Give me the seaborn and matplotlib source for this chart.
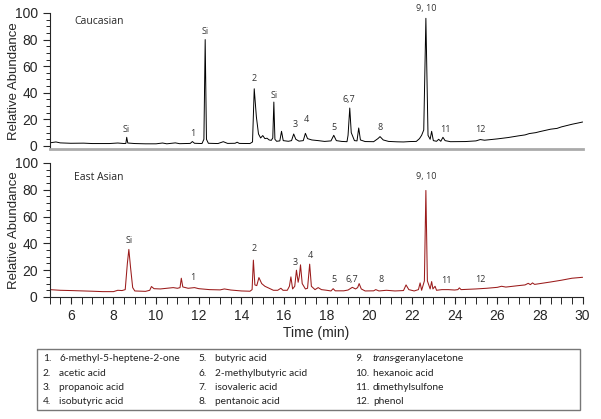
import numpy as np
import matplotlib
matplotlib.use("Agg")
import matplotlib.pyplot as plt
import seaborn as sns
from matplotlib.patches import Rectangle
from matplotlib.ticker import MultipleLocator

# -------------------------------
# DATA
# -------------------------------
cauc_time = [5.0, 5.3, 5.5, 6.0, 6.6, 7.0, 7.8, 8.2, 8.5, 8.58, 8.62, 8.67, 9.0, 9.5,
             10.0, 10.3, 10.5, 10.9, 11.1, 11.6, 11.7, 11.8, 12.15, 12.24, 12.3, 12.36,
             12.45, 12.9, 13.15, 13.35, 13.7, 13.8, 13.9, 14.4, 14.52, 14.6, 14.7, 14.8,
             14.9, 15.0, 15.1, 15.2, 15.3, 15.4, 15.47, 15.52, 15.57, 15.65, 15.8, 15.88,
             15.96, 16.2, 16.35, 16.45, 16.55, 16.7, 16.9, 17.0, 17.1, 17.3, 17.6, 17.9,
             18.2, 18.33, 18.45, 18.7, 18.95, 19.0, 19.08, 19.15, 19.3, 19.42, 19.5,
             19.58, 19.8, 20.2, 20.4, 20.5, 20.65, 20.9, 21.3, 21.6, 21.9, 22.2, 22.35,
             22.45, 22.55, 22.65, 22.75, 22.85, 22.92, 23.0, 23.15, 23.25, 23.35, 23.45,
             23.55, 23.8, 24.5, 25.0, 25.2, 25.4, 26.0, 26.5, 27.0, 27.3, 27.5, 27.8,
             28.0, 28.5, 28.8, 29.0, 29.5, 29.8, 30.0]
cauc_abund = [2.3, 3.0, 2.3, 2.0, 2.1, 1.8, 1.8, 2.2, 1.8, 1.9, 6.5, 2.2, 1.8, 1.6,
              1.6, 2.2, 1.6, 2.3, 1.7, 1.9, 3.3, 2.0, 1.8, 5.0, 80.0, 5.0,
              2.0, 1.8, 3.2, 1.9, 2.0, 2.8, 1.9, 1.8, 3.0, 43.0, 22.0, 9.0,
              6.0, 7.8, 5.5, 5.8, 4.5, 4.2, 6.0, 33.0, 5.0, 3.5, 3.8, 11.0,
              4.0, 3.5, 4.0, 9.0, 5.0, 3.6, 4.0, 9.5, 5.5, 4.5, 4.0, 3.4,
              3.8, 8.0, 4.0, 3.4, 3.2, 8.0, 28.5, 10.0, 4.0, 3.8, 13.5,
              4.5, 3.3, 3.2, 5.5, 7.0, 4.5, 3.4, 3.1, 3.0, 3.3, 3.4, 5.5,
              8.0, 12.0, 96.0, 8.0, 5.0, 11.0, 4.0, 3.5, 5.0, 3.5, 6.5,
              4.0, 3.2, 3.3, 3.8, 4.8, 4.3, 5.3, 6.3, 7.6, 8.3, 9.3, 10.0,
              10.8, 12.6, 13.2, 14.3, 16.3, 17.3, 18.0]

asian_time = [5.0, 5.5, 6.0, 7.0, 7.5, 8.0, 8.2, 8.4, 8.55, 8.65, 8.72, 8.8, 8.9, 9.0,
              9.5, 9.7, 9.78, 9.9, 10.2, 10.5, 10.8, 11.0, 11.12, 11.18, 11.25, 11.5,
              11.8, 12.0, 12.5, 13.0, 13.2, 13.5, 14.0, 14.4, 14.5, 14.56, 14.63, 14.72,
              14.82, 14.95, 15.1, 15.3, 15.5, 15.7, 15.85, 15.95, 16.15, 16.25, 16.32,
              16.4, 16.5, 16.58, 16.66, 16.72, 16.77, 16.85, 17.0, 17.1, 17.2, 17.28,
              17.45, 17.6, 17.75, 18.0, 18.2, 18.3, 18.4, 18.8, 19.0, 19.2, 19.35, 19.45,
              19.52, 19.62, 19.8, 20.2, 20.3, 20.45, 20.8, 21.2, 21.6, 21.72, 21.85, 22.1,
              22.3, 22.38, 22.45, 22.58, 22.65, 22.72, 22.85, 22.92, 22.98, 23.08, 23.15,
              23.4, 23.7, 24.0, 24.15, 24.22, 24.3, 25.0, 25.5, 26.0, 26.2, 26.4, 27.0,
              27.3, 27.45, 27.55, 27.65, 27.75, 28.0, 28.5, 29.0, 29.5, 30.0]
asian_abund = [5.5, 5.0, 4.8, 4.3, 4.0, 4.0, 5.0, 4.8, 5.5, 25.0, 35.5, 22.0, 7.0, 4.5,
               4.2, 5.0, 7.8, 6.2, 6.0, 6.5, 7.0, 6.5, 7.0, 14.0, 7.5, 6.5,
               7.0, 6.2, 5.5, 5.3, 6.0, 5.2, 4.5, 4.3, 5.5, 27.5, 9.0, 8.5,
               14.5, 10.0, 8.0, 6.5, 5.0, 5.0, 6.5, 5.0, 5.0, 8.0, 15.0,
               6.0, 8.0, 20.0, 11.0, 16.0, 24.0, 10.0, 6.0, 6.5, 24.5, 8.0,
               5.5, 7.0, 5.5, 5.0, 4.5, 6.2, 4.6, 4.6, 5.2, 7.2, 6.0, 7.0,
               10.0, 6.0, 4.5, 4.6, 5.5, 4.5, 5.0, 4.5, 4.8, 9.0, 5.5, 4.5,
               5.5, 10.5, 5.0, 12.0, 79.5, 12.0, 6.0, 11.5, 6.0, 8.0, 5.0,
               5.5, 5.5, 5.2, 5.5, 6.8, 5.5, 6.0, 6.5, 7.2, 8.0, 7.4, 8.5,
               9.0, 10.2, 9.2, 10.5, 9.4, 10.0, 11.2, 12.5, 14.0, 14.7]

# peak labels: text, retention time, height of label
cauc_labels = ["Si", "1", "Si", "2", "Si", "3", "4", "5", "6,7", "8", "9, 10", "11", "12"]
cauc_label_t = [8.6, 11.7, 12.32, 14.6, 15.55, 16.5, 17.05, 18.35, 19.05, 20.5, 22.65, 23.55, 25.2]
cauc_label_y = [12, 9, 86, 51, 38, 16, 20, 13.5, 35, 14, 103.5, 12.5, 12]

asian_labels = ["Si", "1", "2", "3", "4", "5", "6,7", "8", "9, 10", "11", "12"]
asian_label_t = [8.72, 11.73, 14.58, 16.52, 17.22, 18.33, 19.16, 20.54, 22.65, 23.6, 25.22]
asian_label_y = [42, 14.4, 36, 26, 31, 13.2, 13.2, 13.2, 90, 12, 12.7]

compound_nums = ["1.", "2.", "3.", "4.", "5.", "6.", "7.", "8.", "9.", "10.", "11.", "12."]
compound_names = ["6-methyl-5-heptene-2-one", "acetic acid", "propanoic acid",
                  "isobutyric acid", "butyric acid", "2-methylbutyric acid",
                  "isovaleric acid", "pentanoic acid", "trans", "hexanoic acid",
                  "dimethylsulfone", "phenol"]

sns.set_style("ticks")
plt.rcParams['font.family'] = ['Liberation Sans', 'DejaVu Sans']

fig = plt.figure(figsize=(6.01, 4.19), dpi=100)
ax_top = fig.add_axes([0.0824, 0.6444, 0.887, 0.3246])
ax_bot = fig.add_axes([0.0824, 0.2912, 0.887, 0.3198])

sns.lineplot(x=cauc_time, y=cauc_abund, ax=ax_top, color="black", lw=0.7,
             sort=False, estimator=None)
sns.lineplot(x=asian_time, y=asian_abund, ax=ax_bot, color="#9b1b1b", lw=0.75,
             sort=False, estimator=None)

label_font = dict(family=['Open Sans', 'DejaVu Sans'], fontsize=6.5, color="#333333",
                  ha="center", va="center")
for txt, t, y in zip(cauc_labels, cauc_label_t, cauc_label_y):
    ax_top.text(t, y, txt, clip_on=False, **label_font)
for txt, t, y in zip(asian_labels, asian_label_t, asian_label_y):
    ax_bot.text(t, y, txt, clip_on=False, **label_font)

ax_top.text(6.15, 93.5, "Caucasian", family=['Open Sans', 'DejaVu Sans'], fontsize=7.5,
            va="center")
ax_bot.text(6.15, 89, "East Asian", family=['Open Sans', 'DejaVu Sans'], fontsize=7.5,
            va="center")

# -------------------------------
# AXES STYLING
# -------------------------------
for ax, ymin in [(ax_top, -2.3), (ax_bot, 0)]:
    ax.set_xlim(5, 30)
    ax.set_ylim(ymin, 100)
    ax.yaxis.set_major_locator(MultipleLocator(20))
    ax.yaxis.set_minor_locator(MultipleLocator(5))
    ax.tick_params(axis="y", which="major", direction="out", length=5, width=0.8,
                   labelsize=10)
    ax.tick_params(axis="y", which="minor", direction="out", length=3, width=0.7)
    ax.set_ylabel("Relative Abundance", fontsize=9.5)
    ax.yaxis.set_label_coords(-0.056, 0.5)
    for side in ["top", "right"]:
        ax.spines[side].set_visible(False)
    ax.spines["left"].set_linewidth(0.8)

ax_top.set_xticks([])
ax_top.spines["bottom"].set_color("#aaaaaa")
ax_top.spines["bottom"].set_linewidth(2)

ax_bot.xaxis.set_major_locator(MultipleLocator(2))
ax_bot.xaxis.set_minor_locator(MultipleLocator(0.5))
ax_bot.tick_params(axis="x", which="major", direction="out", length=5, width=0.8,
                   labelsize=10)
ax_bot.tick_params(axis="x", which="minor", direction="out", length=5, width=0.7)
ax_bot.spines["bottom"].set_linewidth(0.8)
ax_bot.set_xlabel("Time (min)", fontsize=10, labelpad=2)

# -------------------------------
# COMPOUND KEY
# -------------------------------
fig.patches.append(Rectangle((0.0616, 0.0215), 0.9035, 0.1456, transform=fig.transFigure,
                             fill=False, edgecolor="#777777", lw=1))
row_y = [0.1432, 0.1093, 0.0759, 0.0413]
num_x = [0.0715, 0.3295, 0.5907]
name_x = [0.0982, 0.3577, 0.6206]
key_font = dict(family=['Lato', 'DejaVu Sans'], fontsize=7.3, va="center", color="#222222")
for i, (num, name) in enumerate(zip(compound_nums, compound_names)):
    col, row = divmod(i, 4)
    italic = "italic" if num == "9." else "normal"
    fig.text(num_x[col], row_y[row], num, style=italic, **key_font)
    t = fig.text(name_x[col], row_y[row], name, style=italic, **key_font)
    if name == "trans":
        fig.add_artist(matplotlib.text.Annotation(
            "-geranylacetone", xy=(1, 0.5), xycoords=t, xytext=(-2.2, 0),
            textcoords="offset points", **key_font))

fig.savefig("out.png", dpi=100)
